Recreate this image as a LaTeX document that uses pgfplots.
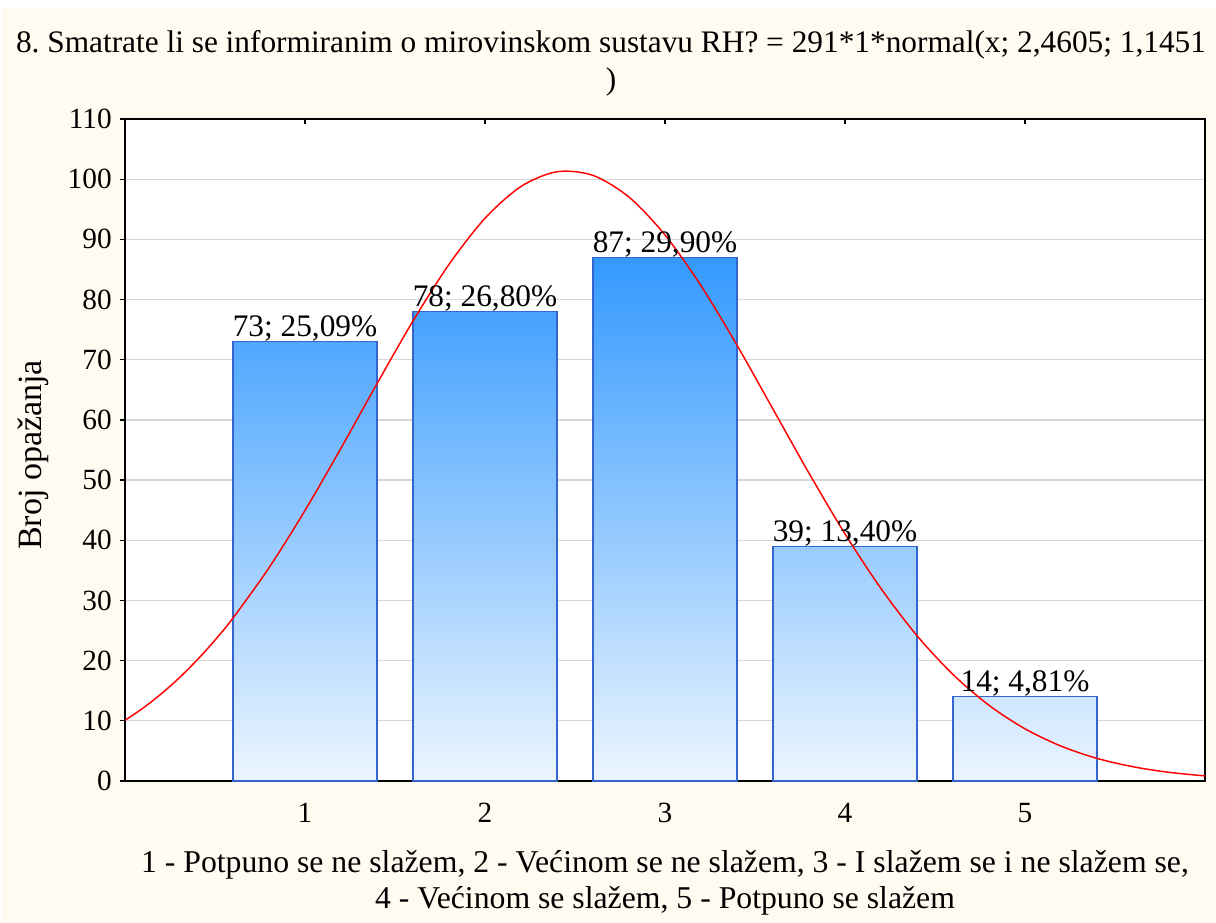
\documentclass[border=0pt]{standalone}
\usepackage{pgfplots}
\pgfplotsset{compat=1.18}
\usepackage{fontspec}
\setmainfont{Liberation Serif}
\frenchspacing
\definecolor{cream}{RGB}{255,251,240}
\definecolor{barlight}{RGB}{236,245,255}
\definecolor{bardark}{RGB}{51,153,255}
\definecolor{barborder}{RGB}{52,100,205}
\definecolor{gridc}{RGB}{215,215,215}
\begin{document}
\begin{tikzpicture}
\fill[white] (-93.75pt,-105.75pt) rectangle (818.25pt,585.75pt);
\fill[cream] (-92.25pt,-105.75pt) rectangle (818.25pt,579.75pt);
\begin{axis}[
  at={(0,0)}, anchor=south west,
  scale only axis, width=810pt, height=496.5pt,
  xmin=0, xmax=6, ymin=0, ymax=110,
  xtick={1,2,3,4,5}, ytick={0,10,...,110},
  axis background/.style={fill=white},
  axis line style={line width=1.2pt, black},
  ymajorgrids, grid style={gridc, line width=0.9pt},
  major tick length=4pt,
  every tick/.style={black, line width=1pt},
  xtick align=inside, ytick align=outside, ytick pos=left,
  /pgf/number format/assume math mode=true,
  tick label style={font=\fontsize{22}{26}\selectfont},
  xticklabel style={anchor=base, yshift=-30.75pt},
  yticklabel style={anchor=east, inner sep=0pt, xshift=-5.75pt},
  every node near coord/.append style={anchor=base, yshift=3.75pt, font=\fontsize{23.5}{27}\selectfont, black, inner sep=0pt},
]
\addplot[ybar, bar width=0.8, bar shift=0pt, draw=barborder, line width=0.8pt, top color=bardark!83.9!barlight, bottom color=barlight, nodes near coords={73; 25,09\%}] coordinates {(1,73)};
\addplot[ybar, bar width=0.8, bar shift=0pt, draw=barborder, line width=0.8pt, top color=bardark!89.7!barlight, bottom color=barlight, nodes near coords={78; 26,80\%}] coordinates {(2,78)};
\addplot[ybar, bar width=0.8, bar shift=0pt, draw=barborder, line width=0.8pt, top color=bardark, bottom color=barlight, nodes near coords={87; 29,90\%}] coordinates {(3,87)};
\addplot[ybar, bar width=0.8, bar shift=0pt, draw=barborder, line width=0.8pt, top color=bardark!44.8!barlight, bottom color=barlight, nodes near coords={39; 13,40\%}] coordinates {(4,39)};
\addplot[ybar, bar width=0.8, bar shift=0pt, draw=barborder, line width=0.8pt, top color=bardark!16.1!barlight, bottom color=barlight, nodes near coords={14; 4,81\%}] coordinates {(5,14)};
\addplot[red, line width=1.1pt, smooth, no marks] coordinates {
(0,10.08) (0.1,12.11) (0.2,14.45) (0.3,17.10) (0.4,20.09) (0.5,23.41) (0.6,27.08) (0.8,35.43) (1.0,44.95)
(1.2,55.31) (1.4,66.02) (1.6,76.44) (1.8,85.84) (2.0,93.50) (2.2,98.79)
(2.4,101.24) (2.6,100.63) (2.8,97.02) (3.0,90.73) (3.2,82.30) (3.4,72.41)
(3.6,61.79) (3.8,51.15) (4.0,41.06) (4.2,31.98) (4.4,24.15) (4.6,17.70)
(4.8,12.58) (5.0,8.67) (5.2,5.80) (5.4,3.76) (5.6,2.37) (5.8,1.44) (6.0,0.85)};
\end{axis}
\node[anchor=base, inner sep=0pt, font=\fontsize{23.5}{27}\selectfont] at (364.5pt,546pt) {8. Smatrate li se informiranim o mirovinskom sustavu RH? = 291*1*normal(x; 2,4605; 1,1451};
\node[anchor=base, inner sep=0pt, font=\fontsize{23.5}{27}\selectfont] at (364.5pt,518.25pt) {)};
\node[rotate=90, inner sep=0pt, font=\fontsize{25.5}{29}\selectfont] at (-69pt,244.5pt) {Broj opažanja};
\node[anchor=base, inner sep=0pt, font=\fontsize{23.8}{27}\selectfont] at (405pt,-68.25pt) {1 - Potpuno se ne slažem, 2 - Većinom se ne slažem, 3 - I slažem se i ne slažem se,};
\node[anchor=base, inner sep=0pt, font=\fontsize{23.8}{27}\selectfont] at (405pt,-95.25pt) {4 - Većinom se slažem, 5 - Potpuno se slažem};
\pgfresetboundingbox
\useasboundingbox (-93.75pt,-105.75pt) rectangle (818.25pt,585.75pt);
\end{tikzpicture}
\end{document}
